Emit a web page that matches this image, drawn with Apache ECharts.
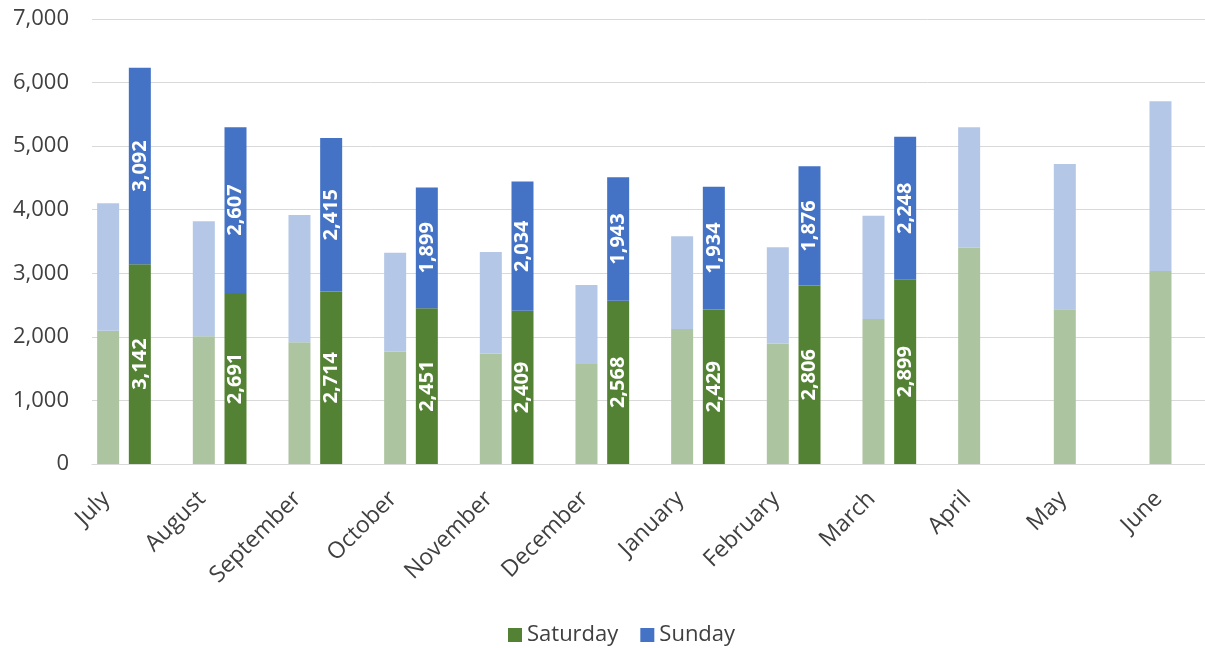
<!DOCTYPE html>
<html><head><meta charset="utf-8">
<script src="https://cdn.jsdelivr.net/npm/echarts@6/dist/echarts.min.js"></script>
<style>html,body{margin:0;padding:0;background:#fff}#c{width:1205px;height:648px}</style>
</head><body><div id="c"></div>
<script>
const months = ['July','August','September','October','November','December','January','February','March','April','May','June'];
// prior-year (faded) values
const saturdayPrev = [2095, 2010, 1915, 1765, 1740, 1575, 2125, 1895, 2280, 3400, 2435, 3035];
const sundayPrev   = [2005, 1807, 2002, 1558, 1594, 1239, 1458, 1513, 1626, 1898, 2285, 2672];
// current-year values
const saturdayCur = [3142, 2691, 2714, 2451, 2409, 2568, 2429, 2806, 2899, null, null, null];
const sundayCur   = [3092, 2607, 2415, 1899, 2034, 1943, 1934, 1876, 2248, null, null, null];

const FONT = '"Open Sans", "Noto Sans", sans-serif';
const fmt = v => (v == null ? '' : Number(v).toLocaleString('en-US'));

const chart = echarts.init(document.getElementById('c'), null, {renderer: 'canvas'});
const lbl = {
  show: true, position: 'inside', rotate: 90, color: '#ffffff',
  fontFamily: FONT, fontWeight: 'bold', fontSize: 20,
  formatter: p => fmt(p.value)
};
chart.setOption({
  animation: false,
  backgroundColor: '#ffffff',
  textStyle: {fontFamily: FONT},
  grid: {left: 92, top: 19, width: 1148, height: 445, containLabel: false, outerBoundsMode: 'none'},
  legend: {
    data: ['Saturday', 'Sunday'], left: 503, top: 619,
    icon: 'rect', itemWidth: 14, itemHeight: 14, itemGap: 22,
    textStyle: {fontSize: 22, color: '#404040', fontFamily: FONT}
  },
  xAxis: {
    type: 'category', data: months,
    axisLine: {lineStyle: {color: '#d9d9d9', width: 1}},
    axisTick: {show: false},
    axisLabel: {rotate: 45, margin: 14, padding: [0, 36, 0, 0], verticalAlign: 'bottom',
      fontSize: 23, color: '#404040', fontFamily: FONT, interval: 0}
  },
  yAxis: {
    type: 'value', min: 0, max: 7000, interval: 1000,
    axisLine: {show: false}, axisTick: {show: false},
    splitLine: {lineStyle: {color: '#d9d9d9', width: 1}},
    axisLabel: {margin: 23, fontSize: 22, color: '#404040', fontFamily: FONT, formatter: v => fmt(v)}
  },
  series: [
    {name: 'Saturday (prior)', type: 'bar', stack: 'prev', data: saturdayPrev, barWidth: 22,
     itemStyle: {color: '#adc4a0'}},
    {name: 'Sunday (prior)', type: 'bar', stack: 'prev', data: sundayPrev, barWidth: 22,
     itemStyle: {color: '#b4c7e7'}},
    {name: 'Saturday', type: 'bar', stack: 'cur', data: saturdayCur, barWidth: 22,
     itemStyle: {color: '#548235'}, label: lbl},
    {name: 'Sunday', type: 'bar', stack: 'cur', data: sundayCur, barWidth: 22,
     itemStyle: {color: '#4472c4'}, label: lbl},
    {name: 'spacer', type: 'bar', stack: 'spacer', data: [], barWidth: 22, barGap: '44%', silent: true,
     itemStyle: {color: 'rgba(0,0,0,0)'}}
  ]
});
</script>
</body></html>
